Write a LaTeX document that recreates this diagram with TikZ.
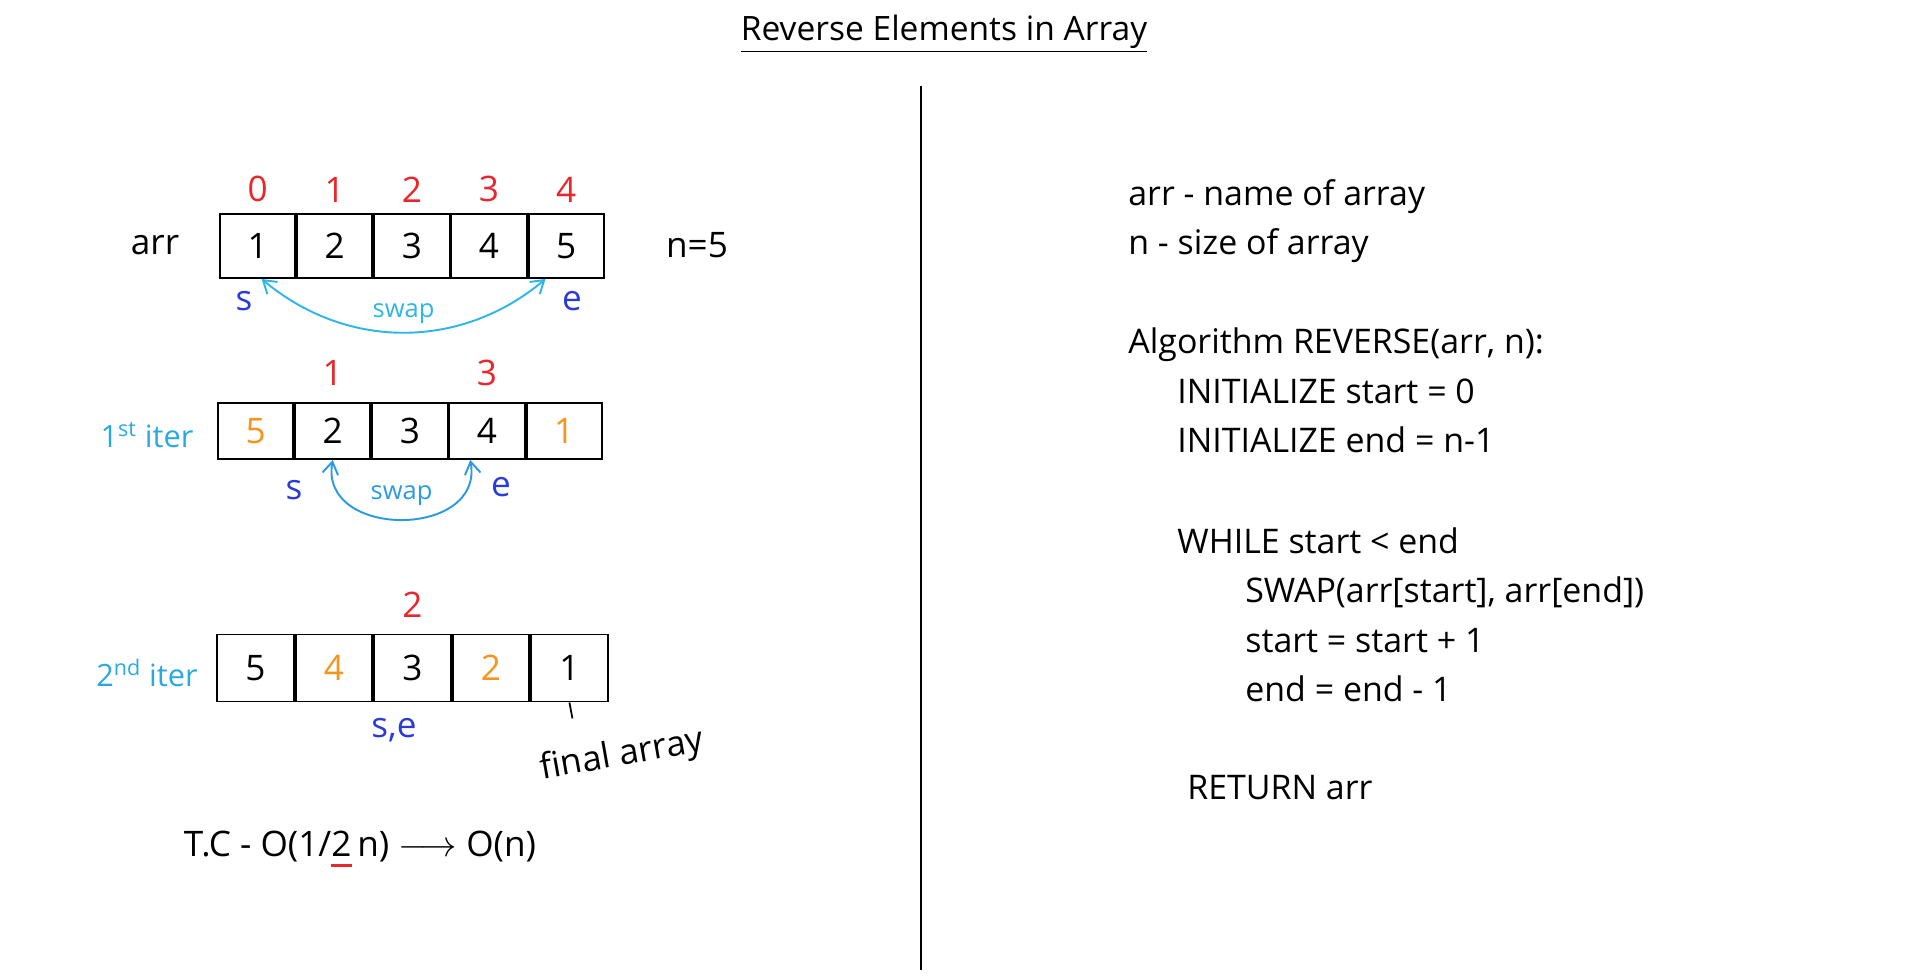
\documentclass[tikz,border=0pt]{standalone}
\usepackage{fontspec}
\setmainfont{Open Sans}
\usetikzlibrary{positioning,arrows.meta,calc}
\definecolor{idxcolor}{HTML}{E8262B}
\definecolor{ptrcolor}{HTML}{2B3BD9}
\definecolor{swapcolor}{HTML}{2EB6E8}
\definecolor{swaptwocolor}{HTML}{2A9BE0}
\definecolor{itercolor}{HTML}{29A9E1}
\definecolor{movedcolor}{HTML}{F7941D}
\newcommand{\redmark}[1]{\setbox0\hbox{#1}\rlap{\textcolor{idxcolor}{\rule[-0.28em]{\wd0}{0.07em}}}#1}

\begin{document}
\begin{tikzpicture}[
  font=\fontsize{19.3}{23}\selectfont,
  cell/.style={draw, line width=1.1pt, minimum width=1.504cm, minimum height=1.28cm, inner sep=0pt, font=\fontsize{20}{24}\selectfont},
  idx/.style={text=idxcolor, inner sep=1pt, font=\fontsize{20}{24}\selectfont},
  ptr/.style={text=ptrcolor, font=\fontsize{20}{24}\selectfont},
  hand/.style={font=\fontsize{20}{24}\selectfont},
  itlbl/.style={text=itercolor, font=\fontsize{17.5}{21}\selectfont},
  swaparrow/.style={draw=swapcolor, line width=1.1pt, {Straight Barb[length=7pt,width=9pt]}-{Straight Barb[length=7pt,width=9pt]}},
  swaplbl/.style={text=swapcolor, font=\fontsize{14.5}{17}\selectfont},
  code/.style={anchor=base west, inner sep=0pt},
]
\useasboundingbox (0,0) rectangle (38.4,-19.52);

% Title and the split between the sketch and the pseudocode
\node[font=\fontsize{19.1}{23}\selectfont] (title) at (18.88,-0.68) {\underline{Reverse Elements in Array}};
\draw[line width=1.1pt] (18.42,-1.72) -- (18.42,-19.4);

% Pseudocode on the right
\node[code] (cmtarr) at (22.56,-4.12) {arr - name of array};
\node[code] (cmtn) at (22.56,-5.10) {n - size of array};
\node[code] (algo) at (22.56,-7.08) {Algorithm REVERSE(arr, n):};
\node[code] (inits) at (23.54,-8.06) {INITIALIZE start = 0};
\node[code] (inite) at (23.54,-9.04) {INITIALIZE end = n-1};
\node[code] (loop) at (23.54,-11.06) {WHILE start < end};
\node[code] (swapln) at (24.90,-12.04) {SWAP(arr[start], arr[end])};
\node[code] (incs) at (24.90,-13.04) {start = start + 1};
\node[code] (dece) at (24.90,-14.02) {end = end - 1};
\node[code] (ret) at (23.74,-15.98) {RETURN arr};

% Starting array
\node[hand] (arrlbl) at (3.1,-4.9) {arr};
\node[cell] (a1) at (5.152,-4.92) {1};
\node[cell, right=0pt of a1] (a2) {2};
\node[cell, right=0pt of a2] (a3) {3};
\node[cell, right=0pt of a3] (a4) {4};
\node[cell, right=0pt of a4] (a5) {5};
\node[hand] (nlbl) at (13.94,-4.9) {n=5};

\node[idx, above=5pt of a1] (i0) {0};
\node[idx, above=5pt of a2] (i1) {1};
\node[idx, above=5pt of a3] (i2) {2};
\node[idx, above=5pt of a4] (i3) {3};
\node[idx, above=5pt of a5] (i4) {4};

\node[ptr] (s1) at (4.88,-6.02) {s};
\node[ptr] (e1) at (11.44,-6.02) {e};
\draw[swaparrow] (a1.277) to[bend right=40] node[swaplbl, midway, above=1pt] (sw1) {swap} (a5.238);

% 1st iteration
\node[itlbl] (iter1) at (2.94,-8.7) {1\textsuperscript{st} iter};
\node[cell, minimum height=1.12cm] (b1) at (5.112,-8.62) {\textcolor{movedcolor}{5}};
\node[cell, minimum height=1.12cm, right=0pt of b1] (b2) {2};
\node[cell, minimum height=1.12cm, right=0pt of b2] (b3) {3};
\node[cell, minimum height=1.12cm, right=0pt of b3] (b4) {4};
\node[cell, minimum height=1.12cm, right=0pt of b4] (b5) {\textcolor{movedcolor}{1}};

\node[idx, above=8pt of b2] (j1) {1};
\node[idx, above=8pt of b4] (j3) {3};

\node[ptr] (s2) at (5.88,-9.8) {s};
\node[ptr] (e2) at (10.02,-9.74) {e};
\draw[swaparrow, draw=swaptwocolor] (b2.270) to[out=-100, in=-80, looseness=1.5] node[swaplbl, text=swaptwocolor, midway, above=4pt] (sw2) {swap} (b4.240);

% 2nd iteration
\node[itlbl] (iter2) at (2.94,-13.46) {2\textsuperscript{nd} iter};
\node[cell, minimum width=1.532cm, minimum height=1.34cm] (f1) at (5.106,-13.36) {5};
\node[cell, minimum width=1.532cm, minimum height=1.34cm, right=0pt of f1] (f2) {\textcolor{movedcolor}{4}};
\node[cell, minimum width=1.532cm, minimum height=1.34cm, right=0pt of f2] (f3) {3};
\node[cell, minimum width=1.532cm, minimum height=1.34cm, right=0pt of f3] (f4) {\textcolor{movedcolor}{2}};
\node[cell, minimum width=1.532cm, minimum height=1.34cm, right=0pt of f4] (f5) {1};

\node[idx, above=8pt of f3] (k2) {2};
\node[ptr] (se) at (7.88,-14.6) {s,e};

\coordinate (tickend) at ($(f5.south)+(0.06,-0.32)$);
\draw[line width=1pt] (f5.south) -- (tickend);
\node[hand, rotate=10] (finlbl) at (12.44,-15.12) {final array};

% Time complexity
\node[hand] (tc) at (7.2,-16.98) {T.C - O(1/\redmark{2}\,n) $\longrightarrow$ O(n)};

\end{tikzpicture}
\end{document}
